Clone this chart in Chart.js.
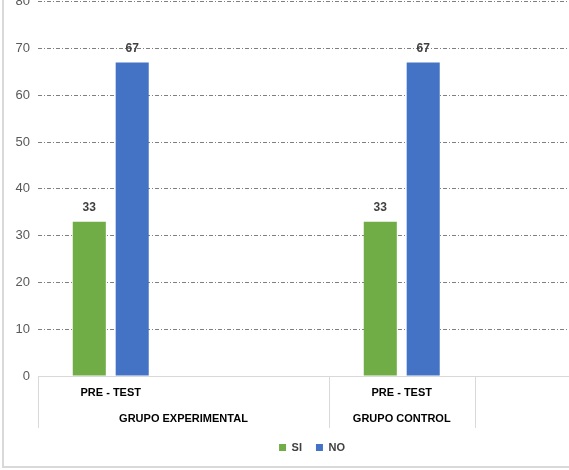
<!DOCTYPE html>
<html>
<head>
<meta charset="utf-8">
<script src="https://cdn.jsdelivr.net/npm/chart.js@4.4.0/dist/chart.umd.min.js"></script>
<style>
    html, body { margin: 0; padding: 0; background: #fff; overflow: hidden; width: 569px; height: 470px; }
    #chart { position: absolute; left: 4px; top: -14px; }
    .edge { position: absolute; background: #d9d9d9; }
</style>
</head>
<body>
<div class="edge" style="left:2px; top:0; width:2px; height:468px;"></div>
<div class="edge" style="left:2px; top:466px; width:600px; height:2px;"></div>
<canvas id="chart" width="630" height="490"></canvas>
<script>
// Chart data
const categories = ['PRE - TEST', '', 'PRE - TEST', ''];
const groups = ['GRUPO EXPERIMENTAL', 'GRUPO CONTROL', ''];
const groupSpans = [2, 1, 1];
const siValues = [33, null, 33, null];
const noValues = [67, null, 67, null];

const FONT = "'Liberation Sans', Arial, sans-serif";

// Draw the value above each bar
const valueLabels = {
    id: 'valueLabels',
    afterDatasetsDraw(chart) {
        const ctx = chart.ctx;
        ctx.save();
        ctx.font = `bold 12px ${FONT}`;
        ctx.fillStyle = '#404040';
        ctx.textAlign = 'center';
        ctx.textBaseline = 'middle';
        chart.data.datasets.forEach((ds, i) => {
            chart.getDatasetMeta(i).data.forEach((bar, j) => {
                if (ds.data[j] == null) return;
                ctx.fillText(ds.data[j], bar.x, bar.y - 14);
            });
        });
        ctx.restore();
    }
};

// Second level of the category axis (group names + separators)
const groupAxis = {
    id: 'groupAxis',
    afterDraw(chart) {
        const ctx = chart.ctx;
        const x = chart.scales.x;
        const slot = (x.right - x.left) / categories.length;
        const top = chart.chartArea.bottom;
        ctx.save();
        ctx.strokeStyle = '#d9d9d9';
        ctx.lineWidth = 1;
        ctx.font = `bold 11px ${FONT}`;
        ctx.fillStyle = '#000';
        ctx.textAlign = 'center';
        ctx.textBaseline = 'middle';
        let start = 0;
        groups.forEach((g, i) => {
            const x0 = x.getPixelForValue(start) - slot / 2;
            const x1 = x.getPixelForValue(start + groupSpans[i] - 1) + slot / 2;
            ctx.beginPath();
            ctx.moveTo(Math.round(x0) + 0.5, top);
            ctx.lineTo(Math.round(x0) + 0.5, top + 52);
            ctx.stroke();
            if (g) ctx.fillText(g, (x0 + x1) / 2, top + 43);
            start += groupSpans[i];
        });
        ctx.restore();
    }
};

new Chart(document.getElementById('chart'), {
    type: 'bar',
    data: {
        labels: categories,
        datasets: [
            { label: 'SI', data: siValues, backgroundColor: '#70AD47' },
            { label: 'NO', data: noValues, backgroundColor: '#4472C4' }
        ]
    },
    options: {
        responsive: false,
        animation: false,
        layout: { padding: { top: 15, right: 14, left: 0, bottom: 13 } },
        datasets: { bar: { categoryPercentage: 0.59, barPercentage: 0.77 } },
        scales: {
            x: {
                afterFit: (scale) => { scale.height = 52; },
                grid: { display: false, drawTicks: false },
                border: { display: true, color: '#d9d9d9', width: 1 },
                ticks: { padding: 10, color: '#000', font: { family: FONT, size: 11, weight: 'bold' } }
            },
            y: {
                min: 0,
                max: 80,
                afterFit: (scale) => { scale.width = 34; },
                ticks: { stepSize: 10, padding: 8, color: '#595959', font: { family: FONT, size: 13 } },
                grid: {
                    drawTicks: false,
                    color: (c) => c.tick && c.tick.value === 0 ? 'rgba(0,0,0,0)' : '#7f7f7f'
                },
                border: { display: false, dash: [4, 2, 1, 2] }
            }
        },
        plugins: {
            legend: {
                position: 'bottom',
                labels: {
                    boxWidth: 7,
                    boxHeight: 7,
                    padding: 14,
                    color: '#404040',
                    font: { family: FONT, size: 11, weight: 'bold' }
                }
            },
            tooltip: { enabled: false }
        }
    },
    plugins: [valueLabels, groupAxis]
});
</script>
</body>
</html>
